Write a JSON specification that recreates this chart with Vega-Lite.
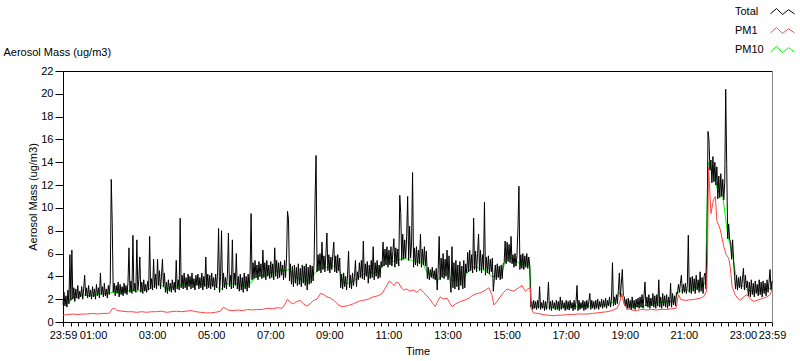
{
"$schema": "https://vega.github.io/schema/vega-lite/v6.json",
"width": 709, "height": 251,
"autosize": {"type": "none"},
"padding": {"left": 63, "top": 71, "right": 28, "bottom": 39},
"background": "white",
"datasets": {
"tot": [
{"t":0,"v":1.5},{"t":2,"v":2.6},{"t":4,"v":1.4},{"t":6,"v":2.3},{"t":8,"v":1.3},{"t":10,"v":2.8},{"t":12,"v":1.6},{"t":14,"v":5.9},{"t":16,"v":1.9},{"t":18,"v":6.3},{"t":20,"v":2.0},{"t":22,"v":3.0},{"t":24,"v":1.8},{"t":26,"v":2.9},{"t":28,"v":2.1},{"t":30,"v":3.2},{"t":32,"v":2.0},{"t":34,"v":2.7},{"t":36,"v":2.2},{"t":38,"v":3.1},{"t":40,"v":2.0},{"t":42,"v":2.9},{"t":44,"v":4.1},{"t":46,"v":2.3},{"t":48,"v":3.0},{"t":50,"v":2.1},{"t":52,"v":3.2},{"t":54,"v":2.2},{"t":56,"v":2.8},{"t":58,"v":2.0},
{"t":60,"v":3.1},{"t":62,"v":2.2},{"t":64,"v":2.9},{"t":66,"v":2.0},{"t":68,"v":3.3},{"t":70,"v":2.3},{"t":72,"v":3.0},{"t":74,"v":2.1},{"t":76,"v":4.3},{"t":78,"v":2.4},{"t":80,"v":3.1},{"t":82,"v":2.2},{"t":84,"v":3.4},{"t":86,"v":2.3},{"t":88,"v":2.9},{"t":90,"v":2.1},{"t":92,"v":3.2},{"t":94,"v":2.4},{"t":96,"v":3.6},{"t":98,"v":12.5},{"t":100,"v":8.6},{"t":102,"v":2.6},{"t":104,"v":3.4},{"t":106,"v":2.3},{"t":108,"v":3.2},{"t":110,"v":2.5},{"t":112,"v":3.5},{"t":114,"v":2.2},{"t":116,"v":3.3},{"t":118,"v":2.4},
{"t":120,"v":3.1},{"t":122,"v":2.3},{"t":124,"v":3.4},{"t":126,"v":2.5},{"t":128,"v":3.2},{"t":130,"v":2.4},{"t":132,"v":3.5},{"t":134,"v":6.5},{"t":136,"v":2.6},{"t":138,"v":3.6},{"t":140,"v":2.5},{"t":142,"v":7.6},{"t":144,"v":2.7},{"t":146,"v":3.4},{"t":148,"v":2.6},{"t":150,"v":7.2},{"t":152,"v":2.8},{"t":154,"v":3.7},{"t":156,"v":5.7},{"t":158,"v":2.6},{"t":160,"v":3.5},{"t":162,"v":2.5},{"t":164,"v":3.7},{"t":166,"v":2.7},{"t":168,"v":3.3},{"t":170,"v":2.6},{"t":172,"v":3.6},{"t":174,"v":2.8},{"t":176,"v":7.5},{"t":178,"v":2.9},
{"t":180,"v":3.8},{"t":182,"v":2.8},{"t":184,"v":5.5},{"t":186,"v":3.0},{"t":188,"v":4.2},{"t":190,"v":2.9},{"t":192,"v":5.5},{"t":194,"v":3.2},{"t":196,"v":4.5},{"t":198,"v":2.9},{"t":200,"v":4.0},{"t":202,"v":5.5},{"t":204,"v":3.1},{"t":206,"v":4.3},{"t":208,"v":2.6},{"t":210,"v":3.5},{"t":212,"v":2.5},{"t":214,"v":3.7},{"t":216,"v":2.7},{"t":218,"v":3.4},{"t":220,"v":2.6},{"t":222,"v":3.7},{"t":224,"v":2.8},{"t":226,"v":3.5},{"t":228,"v":2.6},{"t":230,"v":5.4},{"t":232,"v":2.9},{"t":234,"v":3.7},{"t":236,"v":2.8},{"t":238,"v":9.1},
{"t":240,"v":3.0},{"t":242,"v":4.1},{"t":244,"v":2.9},{"t":246,"v":4.3},{"t":248,"v":3.0},{"t":250,"v":3.9},{"t":252,"v":2.8},{"t":254,"v":4.2},{"t":256,"v":3.1},{"t":258,"v":4.0},{"t":260,"v":2.9},{"t":262,"v":4.3},{"t":264,"v":3.0},{"t":266,"v":3.8},{"t":268,"v":2.8},{"t":270,"v":4.1},{"t":272,"v":3.2},{"t":274,"v":4.2},{"t":276,"v":2.9},{"t":278,"v":3.9},{"t":280,"v":3.0},{"t":282,"v":4.3},{"t":284,"v":2.8},{"t":286,"v":4.0},{"t":288,"v":3.1},{"t":290,"v":5.7},{"t":292,"v":2.9},{"t":294,"v":4.2},{"t":296,"v":3.0},{"t":298,"v":4.1},
{"t":300,"v":2.9},{"t":302,"v":4.3},{"t":304,"v":3.1},{"t":306,"v":3.9},{"t":308,"v":2.8},{"t":310,"v":4.2},{"t":312,"v":3.0},{"t":314,"v":4.3},{"t":316,"v":8.2},{"t":318,"v":2.6},{"t":320,"v":4.0},{"t":322,"v":8.0},{"t":324,"v":2.8},{"t":326,"v":4.3},{"t":328,"v":3.0},{"t":330,"v":3.9},{"t":332,"v":2.9},{"t":334,"v":4.2},{"t":336,"v":7.8},{"t":338,"v":3.1},{"t":340,"v":4.1},{"t":342,"v":2.9},{"t":344,"v":7.2},{"t":346,"v":3.0},{"t":348,"v":4.3},{"t":350,"v":3.2},{"t":352,"v":6.0},{"t":354,"v":2.9},{"t":356,"v":4.0},{"t":358,"v":2.7},
{"t":360,"v":4.2},{"t":362,"v":2.8},{"t":364,"v":3.9},{"t":366,"v":2.6},{"t":368,"v":4.3},{"t":370,"v":2.9},{"t":372,"v":4.0},{"t":374,"v":2.7},{"t":376,"v":4.2},{"t":378,"v":3.0},{"t":380,"v":4.4},{"t":382,"v":9.5},{"t":384,"v":3.7},{"t":386,"v":5.2},{"t":388,"v":3.8},{"t":390,"v":5.4},{"t":392,"v":3.9},{"t":394,"v":5.0},{"t":396,"v":3.7},{"t":398,"v":5.3},{"t":400,"v":4.0},{"t":402,"v":5.1},{"t":404,"v":3.8},{"t":406,"v":6.3},{"t":408,"v":3.9},{"t":410,"v":5.2},{"t":412,"v":3.7},{"t":414,"v":5.4},{"t":416,"v":4.0},{"t":418,"v":5.0},
{"t":420,"v":3.8},{"t":422,"v":5.3},{"t":424,"v":3.9},{"t":426,"v":5.1},{"t":428,"v":3.7},{"t":430,"v":6.5},{"t":432,"v":4.0},{"t":434,"v":5.4},{"t":436,"v":3.8},{"t":438,"v":5.2},{"t":440,"v":3.9},{"t":442,"v":5.3},{"t":444,"v":4.1},{"t":446,"v":5.0},{"t":448,"v":3.7},{"t":450,"v":5.4},{"t":452,"v":3.9},{"t":454,"v":5.6},{"t":456,"v":9.7},{"t":458,"v":9.0},{"t":460,"v":3.6},{"t":462,"v":5.1},{"t":464,"v":3.3},{"t":466,"v":4.9},{"t":468,"v":3.1},{"t":470,"v":5.0},{"t":472,"v":3.4},{"t":474,"v":4.8},{"t":476,"v":3.2},{"t":478,"v":5.1},
{"t":480,"v":3.3},{"t":482,"v":4.7},{"t":484,"v":3.1},{"t":486,"v":5.0},{"t":488,"v":3.4},{"t":490,"v":4.9},{"t":492,"v":3.2},{"t":494,"v":5.1},{"t":496,"v":2.8},{"t":498,"v":4.8},{"t":500,"v":3.3},{"t":502,"v":5.0},{"t":504,"v":3.4},{"t":506,"v":4.9},{"t":508,"v":3.6},{"t":510,"v":5.2},{"t":512,"v":10.8},{"t":514,"v":14.6},{"t":516,"v":4.4},{"t":518,"v":5.9},{"t":520,"v":4.5},{"t":522,"v":6.0},{"t":524,"v":4.3},{"t":526,"v":7.0},{"t":528,"v":4.6},{"t":530,"v":5.8},{"t":532,"v":4.4},{"t":534,"v":6.0},{"t":536,"v":7.8},{"t":538,"v":4.5},
{"t":540,"v":5.9},{"t":542,"v":4.3},{"t":544,"v":5.7},{"t":546,"v":4.6},{"t":548,"v":6.0},{"t":550,"v":7.0},{"t":552,"v":4.4},{"t":554,"v":5.8},{"t":556,"v":4.3},{"t":558,"v":5.9},{"t":560,"v":4.5},{"t":562,"v":5.6},{"t":564,"v":3.0},{"t":566,"v":4.2},{"t":568,"v":2.9},{"t":570,"v":4.3},{"t":572,"v":3.1},{"t":574,"v":4.0},{"t":576,"v":2.8},{"t":578,"v":4.2},{"t":580,"v":6.2},{"t":582,"v":3.0},{"t":584,"v":4.1},{"t":586,"v":2.9},{"t":588,"v":4.3},{"t":590,"v":3.2},{"t":592,"v":4.0},{"t":594,"v":5.4},{"t":596,"v":3.1},{"t":598,"v":4.4},
{"t":600,"v":3.7},{"t":602,"v":5.2},{"t":604,"v":3.9},{"t":606,"v":5.4},{"t":608,"v":3.8},{"t":610,"v":7.1},{"t":612,"v":3.7},{"t":614,"v":5.1},{"t":616,"v":4.0},{"t":618,"v":5.3},{"t":620,"v":3.4},{"t":622,"v":5.0},{"t":624,"v":3.8},{"t":626,"v":5.4},{"t":628,"v":3.9},{"t":630,"v":6.6},{"t":632,"v":3.7},{"t":634,"v":5.2},{"t":636,"v":4.0},{"t":638,"v":5.4},{"t":640,"v":3.8},{"t":642,"v":5.0},{"t":644,"v":3.9},{"t":646,"v":5.3},{"t":648,"v":4.8},{"t":650,"v":7.0},{"t":652,"v":4.9},{"t":654,"v":6.4},{"t":656,"v":5.0},{"t":658,"v":6.6},
{"t":660,"v":4.8},{"t":662,"v":6.3},{"t":664,"v":5.0},{"t":666,"v":6.6},{"t":668,"v":4.9},{"t":670,"v":6.2},{"t":672,"v":7.3},{"t":674,"v":4.8},{"t":676,"v":6.5},{"t":678,"v":5.1},{"t":680,"v":6.4},{"t":682,"v":4.9},{"t":684,"v":11.1},{"t":686,"v":9.5},{"t":688,"v":5.4},{"t":690,"v":7.7},{"t":692,"v":5.5},{"t":694,"v":7.2},{"t":696,"v":5.6},{"t":698,"v":7.5},{"t":700,"v":11.0},{"t":702,"v":5.4},{"t":704,"v":8.4},{"t":706,"v":5.6},{"t":708,"v":7.0},{"t":710,"v":13.1},{"t":712,"v":4.8},{"t":714,"v":6.5},{"t":716,"v":5.0},{"t":718,"v":6.6},
{"t":720,"v":4.9},{"t":722,"v":6.3},{"t":724,"v":5.1},{"t":726,"v":7.7},{"t":728,"v":4.8},{"t":730,"v":6.4},{"t":732,"v":5.0},{"t":734,"v":6.6},{"t":736,"v":4.9},{"t":738,"v":6.2},{"t":740,"v":3.8},{"t":742,"v":4.8},{"t":744,"v":3.7},{"t":746,"v":4.6},{"t":748,"v":3.9},{"t":750,"v":4.8},{"t":752,"v":3.8},{"t":754,"v":4.5},{"t":756,"v":3.7},{"t":758,"v":4.7},{"t":760,"v":2.8},{"t":762,"v":4.6},{"t":764,"v":7.5},{"t":766,"v":3.7},{"t":768,"v":5.6},{"t":770,"v":3.9},{"t":772,"v":6.0},{"t":774,"v":3.8},{"t":776,"v":5.5},{"t":778,"v":4.0},
{"t":780,"v":6.3},{"t":782,"v":3.7},{"t":784,"v":5.8},{"t":786,"v":3.9},{"t":788,"v":2.6},{"t":790,"v":6.6},{"t":792,"v":3.0},{"t":794,"v":5.2},{"t":796,"v":2.9},{"t":798,"v":5.4},{"t":800,"v":3.1},{"t":802,"v":5.0},{"t":804,"v":2.8},{"t":806,"v":5.3},{"t":808,"v":3.2},{"t":810,"v":4.9},{"t":812,"v":2.9},{"t":814,"v":5.4},{"t":816,"v":3.0},{"t":818,"v":5.1},{"t":820,"v":4.3},{"t":822,"v":6.1},{"t":824,"v":4.4},{"t":826,"v":6.3},{"t":828,"v":4.5},{"t":830,"v":5.9},{"t":832,"v":4.3},{"t":834,"v":9.1},{"t":836,"v":4.6},{"t":838,"v":6.2},
{"t":840,"v":4.4},{"t":842,"v":6.0},{"t":844,"v":7.7},{"t":846,"v":4.5},{"t":848,"v":6.3},{"t":850,"v":4.3},{"t":852,"v":5.9},{"t":854,"v":4.6},{"t":856,"v":10.5},{"t":858,"v":4.1},{"t":860,"v":5.7},{"t":862,"v":4.3},{"t":864,"v":5.8},{"t":866,"v":4.2},{"t":868,"v":5.5},{"t":870,"v":4.4},{"t":872,"v":5.6},{"t":874,"v":2.7},{"t":876,"v":3.8},{"t":878,"v":5.0},{"t":880,"v":3.7},{"t":882,"v":5.1},{"t":884,"v":3.9},{"t":886,"v":4.9},{"t":888,"v":3.7},{"t":890,"v":5.0},{"t":892,"v":3.8},{"t":894,"v":5.1},{"t":896,"v":5.2},{"t":898,"v":7.1},
{"t":900,"v":5.1},{"t":902,"v":7.0},{"t":904,"v":5.3},{"t":906,"v":6.8},{"t":908,"v":5.2},{"t":910,"v":7.5},{"t":912,"v":5.1},{"t":914,"v":5.9},{"t":916,"v":4.8},{"t":918,"v":6.0},{"t":920,"v":4.9},{"t":922,"v":5.8},{"t":924,"v":8.2},{"t":926,"v":11.9},{"t":928,"v":4.6},{"t":930,"v":5.9},{"t":932,"v":4.7},{"t":934,"v":6.0},{"t":936,"v":4.6},{"t":938,"v":5.8},{"t":940,"v":4.8},{"t":942,"v":6.0},{"t":944,"v":4.7},{"t":946,"v":5.7},{"t":948,"v":4.9},{"t":950,"v":1.3},{"t":952,"v":1.8},{"t":954,"v":1.1},{"t":956,"v":1.9},{"t":958,"v":1.2},
{"t":960,"v":1.8},{"t":962,"v":1.1},{"t":964,"v":1.9},{"t":966,"v":1.2},{"t":968,"v":3.1},{"t":970,"v":1.1},{"t":972,"v":1.7},{"t":974,"v":1.2},{"t":976,"v":1.9},{"t":978,"v":1.0},{"t":980,"v":1.8},{"t":982,"v":1.1},{"t":984,"v":1.9},{"t":986,"v":3.5},{"t":988,"v":1.1},{"t":990,"v":1.8},{"t":992,"v":1.0},{"t":994,"v":1.9},{"t":996,"v":1.2},{"t":998,"v":1.7},{"t":1000,"v":1.05},{"t":1002,"v":1.9},{"t":1004,"v":1.1},{"t":1006,"v":1.8},{"t":1008,"v":1.0},{"t":1010,"v":2.2},{"t":1012,"v":1.1},{"t":1014,"v":1.9},{"t":1016,"v":1.2},{"t":1018,"v":1.7},
{"t":1020,"v":1.0},{"t":1022,"v":1.9},{"t":1024,"v":1.1},{"t":1026,"v":1.8},{"t":1028,"v":1.05},{"t":1030,"v":1.9},{"t":1032,"v":1.2},{"t":1034,"v":1.7},{"t":1036,"v":1.0},{"t":1038,"v":1.9},{"t":1040,"v":1.1},{"t":1042,"v":1.8},{"t":1044,"v":3.2},{"t":1046,"v":1.0},{"t":1048,"v":1.9},{"t":1050,"v":1.1},{"t":1052,"v":1.7},{"t":1054,"v":1.2},{"t":1056,"v":1.9},{"t":1058,"v":1.0},{"t":1060,"v":1.8},{"t":1062,"v":1.1},{"t":1064,"v":1.9},{"t":1066,"v":1.2},{"t":1068,"v":1.8},{"t":1070,"v":2.5},{"t":1072,"v":1.1},{"t":1074,"v":1.9},{"t":1076,"v":1.2},{"t":1078,"v":1.8},
{"t":1080,"v":1.1},{"t":1082,"v":1.9},{"t":1084,"v":1.2},{"t":1086,"v":2.0},{"t":1088,"v":1.1},{"t":1090,"v":1.8},{"t":1092,"v":1.3},{"t":1094,"v":2.0},{"t":1096,"v":1.2},{"t":1098,"v":1.9},{"t":1100,"v":1.3},{"t":1102,"v":2.1},{"t":1104,"v":1.2},{"t":1106,"v":1.9},{"t":1108,"v":1.4},{"t":1110,"v":2.2},{"t":1112,"v":1.3},{"t":1114,"v":2.0},{"t":1116,"v":5.2},{"t":1118,"v":1.4},{"t":1120,"v":2.2},{"t":1122,"v":1.5},{"t":1124,"v":2.4},{"t":1126,"v":1.6},{"t":1128,"v":2.8},{"t":1130,"v":4.3},{"t":1132,"v":2.2},{"t":1134,"v":3.4},{"t":1136,"v":4.6},{"t":1138,"v":2.3},
{"t":1140,"v":2.2},{"t":1142,"v":1.4},{"t":1144,"v":2.0},{"t":1146,"v":1.1},{"t":1148,"v":2.1},{"t":1150,"v":1.2},{"t":1152,"v":1.9},{"t":1154,"v":1.05},{"t":1156,"v":2.2},{"t":1158,"v":1.2},{"t":1160,"v":1.9},{"t":1162,"v":1.1},{"t":1164,"v":2.0},{"t":1166,"v":1.3},{"t":1168,"v":2.1},{"t":1170,"v":1.2},{"t":1172,"v":2.2},{"t":1174,"v":1.3},{"t":1176,"v":2.4},{"t":1178,"v":1.2},{"t":1180,"v":2.3},{"t":1182,"v":3.5},{"t":1184,"v":1.4},{"t":1186,"v":2.2},{"t":1188,"v":1.3},{"t":1190,"v":2.4},{"t":1192,"v":1.2},{"t":1194,"v":2.1},{"t":1196,"v":1.4},{"t":1198,"v":2.5},
{"t":1200,"v":1.3},{"t":1202,"v":2.3},{"t":1204,"v":1.2},{"t":1206,"v":2.4},{"t":1208,"v":1.4},{"t":1210,"v":3.7},{"t":1212,"v":1.3},{"t":1214,"v":2.2},{"t":1216,"v":1.2},{"t":1218,"v":2.5},{"t":1220,"v":1.4},{"t":1222,"v":2.3},{"t":1224,"v":1.3},{"t":1226,"v":2.4},{"t":1228,"v":1.2},{"t":1230,"v":2.2},{"t":1232,"v":1.4},{"t":1234,"v":3.4},{"t":1236,"v":1.3},{"t":1238,"v":2.5},{"t":1240,"v":1.5},{"t":1242,"v":2.3},{"t":1244,"v":1.4},{"t":1246,"v":2.6},{"t":1248,"v":2.5},{"t":1250,"v":3.3},{"t":1252,"v":2.6},{"t":1254,"v":3.4},{"t":1256,"v":4.1},{"t":1258,"v":2.5},
{"t":1260,"v":3.3},{"t":1262,"v":2.6},{"t":1264,"v":3.4},{"t":1266,"v":2.5},{"t":1268,"v":3.2},{"t":1270,"v":7.6},{"t":1272,"v":2.6},{"t":1274,"v":3.9},{"t":1276,"v":2.5},{"t":1278,"v":4.0},{"t":1280,"v":2.7},{"t":1282,"v":3.8},{"t":1284,"v":2.5},{"t":1286,"v":4.1},{"t":1288,"v":2.8},{"t":1290,"v":3.7},{"t":1292,"v":2.6},{"t":1294,"v":4.4},{"t":1296,"v":2.7},{"t":1298,"v":3.9},{"t":1300,"v":2.5},{"t":1302,"v":4.0},{"t":1304,"v":4.3},{"t":1306,"v":2.9},{"t":1308,"v":7.2},{"t":1310,"v":16.7},{"t":1312,"v":16.0},{"t":1314,"v":13.3},{"t":1316,"v":14.2},{"t":1318,"v":12.2},
{"t":1320,"v":14.5},{"t":1322,"v":12.3},{"t":1324,"v":14.0},{"t":1326,"v":12.0},{"t":1328,"v":13.6},{"t":1330,"v":10.8},{"t":1332,"v":12.8},{"t":1334,"v":10.9},{"t":1336,"v":13.0},{"t":1338,"v":11.0},{"t":1340,"v":12.5},{"t":1342,"v":10.7},{"t":1344,"v":12.2},{"t":1346,"v":20.4},{"t":1348,"v":13.8},{"t":1350,"v":7.3},{"t":1352,"v":8.6},{"t":1354,"v":7.2},{"t":1356,"v":7.0},{"t":1358,"v":5.5},{"t":1360,"v":7.2},{"t":1362,"v":5.4},{"t":1364,"v":4.0},{"t":1366,"v":2.9},{"t":1368,"v":4.1},{"t":1370,"v":2.8},{"t":1372,"v":3.9},{"t":1374,"v":3.0},{"t":1376,"v":4.0},{"t":1378,"v":2.9},
{"t":1380,"v":3.8},{"t":1382,"v":4.7},{"t":1384,"v":2.8},{"t":1386,"v":4.1},{"t":1388,"v":3.0},{"t":1390,"v":3.6},{"t":1392,"v":2.3},{"t":1394,"v":3.5},{"t":1396,"v":2.2},{"t":1398,"v":3.7},{"t":1400,"v":2.4},{"t":1402,"v":3.4},{"t":1404,"v":2.2},{"t":1406,"v":3.6},{"t":1408,"v":2.5},{"t":1410,"v":3.3},{"t":1412,"v":2.3},{"t":1414,"v":3.7},{"t":1416,"v":2.4},{"t":1418,"v":3.5},{"t":1420,"v":2.2},{"t":1422,"v":3.6},{"t":1424,"v":2.5},{"t":1426,"v":3.4},{"t":1428,"v":2.3},{"t":1430,"v":3.7},{"t":1432,"v":2.6},{"t":1434,"v":3.5},{"t":1436,"v":4.6},{"t":1438,"v":2.8},{"t":1440,"v":3.6}
],
"pm1": [
{"t":0,"v":0.6},{"t":10,"v":0.65},{"t":20,"v":0.7},{"t":30,"v":0.65},{"t":40,"v":0.7},{"t":50,"v":0.7},{"t":60,"v":0.75},{"t":70,"v":0.7},{"t":80,"v":0.75},{"t":90,"v":0.75},{"t":95,"v":0.8},{"t":100,"v":1.15},{"t":105,"v":1.2},{"t":110,"v":1.0},{"t":120,"v":0.95},{"t":130,"v":0.9},{"t":140,"v":0.9},{"t":150,"v":0.85},{"t":160,"v":0.9},{"t":170,"v":0.85},{"t":180,"v":0.9},{"t":190,"v":0.9},{"t":200,"v":0.95},{"t":210,"v":0.85},{"t":220,"v":0.9},{"t":230,"v":0.95},{"t":240,"v":0.9},{"t":250,"v":0.95},{"t":260,"v":1.0},{"t":270,"v":0.9},{"t":280,"v":0.85},{"t":290,"v":0.8},{"t":300,"v":0.8},{"t":310,"v":0.85},{"t":320,"v":0.95},{"t":326,"v":1.3},{"t":335,"v":1.05},{"t":345,"v":1.0},{"t":355,"v":1.05},{"t":365,"v":1.0},{"t":375,"v":1.1},{"t":385,"v":1.05},{"t":395,"v":1.1},{"t":405,"v":1.1},{"t":415,"v":1.2},{"t":425,"v":1.15},{"t":435,"v":1.25},{"t":445,"v":1.2},{"t":450,"v":1.5},{"t":456,"v":2.0},{"t":462,"v":1.7},{"t":468,"v":1.6},{"t":475,"v":1.8},{"t":482,"v":1.9},{"t":488,"v":1.6},{"t":495,"v":1.4},{"t":502,"v":1.6},{"t":509,"v":1.9},{"t":516,"v":2.0},{"t":523,"v":2.5},{"t":530,"v":2.4},{"t":536,"v":2.2},{"t":543,"v":2.1},{"t":550,"v":1.9},{"t":557,"v":1.6},{"t":563,"v":1.4},{"t":570,"v":1.35},{"t":580,"v":1.45},{"t":590,"v":1.6},{"t":600,"v":1.8},{"t":610,"v":1.9},{"t":620,"v":2.0},{"t":630,"v":2.2},{"t":640,"v":2.3},{"t":648,"v":2.5},{"t":655,"v":3.0},{"t":663,"v":3.6},{"t":668,"v":3.4},{"t":672,"v":3.2},{"t":677,"v":3.5},{"t":682,"v":3.4},{"t":687,"v":3.0},{"t":692,"v":2.8},{"t":698,"v":2.9},{"t":705,"v":2.7},{"t":712,"v":2.8},{"t":719,"v":2.6},{"t":726,"v":2.9},{"t":732,"v":2.6},{"t":739,"v":2.3},{"t":745,"v":2.0},{"t":750,"v":1.7},{"t":756,"v":1.35},{"t":761,"v":1.8},{"t":766,"v":2.2},{"t":773,"v":2.0},{"t":780,"v":2.1},{"t":785,"v":1.7},{"t":790,"v":1.35},{"t":798,"v":1.6},{"t":807,"v":1.8},{"t":815,"v":1.9},{"t":825,"v":2.1},{"t":834,"v":2.4},{"t":842,"v":2.5},{"t":850,"v":2.6},{"t":858,"v":2.8},{"t":865,"v":3.0},{"t":871,"v":2.4},{"t":875,"v":1.5},{"t":880,"v":1.7},{"t":888,"v":2.2},{"t":895,"v":2.6},{"t":902,"v":2.9},{"t":908,"v":2.8},{"t":915,"v":2.7},{"t":922,"v":2.9},{"t":932,"v":3.2},{"t":939,"v":2.7},{"t":944,"v":2.9},{"t":949,"v":3.0},{"t":951,"v":1.2},{"t":955,"v":0.8},{"t":965,"v":0.75},{"t":975,"v":0.65},{"t":985,"v":0.6},{"t":995,"v":0.55},{"t":1005,"v":0.6},{"t":1015,"v":0.6},{"t":1025,"v":0.65},{"t":1035,"v":0.65},{"t":1045,"v":0.7},{"t":1055,"v":0.7},{"t":1065,"v":0.7},{"t":1075,"v":0.75},{"t":1085,"v":0.8},{"t":1095,"v":0.85},{"t":1105,"v":0.9},{"t":1115,"v":1.0},{"t":1125,"v":1.2},{"t":1130,"v":1.6},{"t":1135,"v":2.5},{"t":1139,"v":1.6},{"t":1145,"v":1.2},{"t":1155,"v":1.05},{"t":1165,"v":1.0},{"t":1175,"v":1.1},{"t":1185,"v":1.05},{"t":1195,"v":1.1},{"t":1205,"v":1.05},{"t":1215,"v":1.1},{"t":1225,"v":1.1},{"t":1235,"v":1.15},{"t":1245,"v":1.2},{"t":1250,"v":2.4},{"t":1255,"v":1.95},{"t":1265,"v":1.9},{"t":1275,"v":1.95},{"t":1285,"v":2.0},{"t":1295,"v":2.1},{"t":1301,"v":2.2},{"t":1307,"v":2.7},{"t":1309,"v":5.7},{"t":1311,"v":13.6},{"t":1313,"v":12.0},{"t":1316,"v":9.5},{"t":1321,"v":10.7},{"t":1325,"v":11.0},{"t":1328,"v":8.9},{"t":1335,"v":8.1},{"t":1342,"v":6.6},{"t":1347,"v":5.9},{"t":1352,"v":5.6},{"t":1355,"v":4.9},{"t":1359,"v":3.1},{"t":1365,"v":2.4},{"t":1370,"v":2.1},{"t":1376,"v":1.9},{"t":1382,"v":2.2},{"t":1389,"v":2.4},{"t":1396,"v":2.0},{"t":1403,"v":1.8},{"t":1410,"v":1.9},{"t":1416,"v":2.0},{"t":1423,"v":2.1},{"t":1430,"v":2.2},{"t":1436,"v":2.4},{"t":1440,"v":2.8}
],
"pm10": [
{"t":0,"v":1.7},{"t":10,"v":1.6},{"t":20,"v":2.2},{"t":30,"v":2.1},{"t":40,"v":2.4},{"t":50,"v":2.3},{"t":60,"v":2.3},{"t":70,"v":2.4},{"t":80,"v":2.5},{"t":90,"v":2.5},{"t":100,"v":2.6},{"t":110,"v":2.6},{"t":120,"v":2.6},{"t":130,"v":2.7},{"t":140,"v":2.8},{"t":150,"v":2.7},{"t":160,"v":2.8},{"t":170,"v":2.8},{"t":180,"v":3.0},{"t":190,"v":3.4},{"t":200,"v":3.2},{"t":210,"v":2.9},{"t":220,"v":3.0},{"t":230,"v":3.1},{"t":240,"v":3.3},{"t":250,"v":3.3},{"t":260,"v":3.4},{"t":270,"v":3.3},{"t":280,"v":3.3},{"t":290,"v":3.3},{"t":300,"v":3.3},{"t":310,"v":3.2},{"t":320,"v":2.8},{"t":330,"v":3.4},{"t":340,"v":3.3},{"t":350,"v":3.4},{"t":360,"v":3.2},{"t":370,"v":3.1},{"t":380,"v":3.4},{"t":390,"v":3.9},{"t":400,"v":4.0},{"t":410,"v":4.1},{"t":420,"v":4.3},{"t":430,"v":4.4},{"t":440,"v":4.5},{"t":450,"v":4.5},{"t":460,"v":4.6},{"t":470,"v":4.0},{"t":480,"v":3.8},{"t":490,"v":3.6},{"t":500,"v":3.7},{"t":510,"v":4.2},{"t":520,"v":4.6},{"t":530,"v":4.8},{"t":540,"v":4.8},{"t":550,"v":4.9},{"t":560,"v":4.6},{"t":570,"v":3.4},{"t":580,"v":3.4},{"t":590,"v":3.6},{"t":600,"v":3.9},{"t":610,"v":4.2},{"t":620,"v":4.3},{"t":630,"v":4.3},{"t":640,"v":4.4},{"t":650,"v":5.0},{"t":660,"v":5.2},{"t":670,"v":5.3},{"t":680,"v":5.4},{"t":690,"v":5.6},{"t":700,"v":5.5},{"t":710,"v":5.4},{"t":720,"v":5.3},{"t":730,"v":5.2},{"t":740,"v":4.3},{"t":750,"v":4.1},{"t":760,"v":3.6},{"t":770,"v":4.2},{"t":780,"v":4.3},{"t":790,"v":3.6},{"t":800,"v":3.7},{"t":810,"v":3.8},{"t":820,"v":4.2},{"t":830,"v":4.8},{"t":840,"v":4.8},{"t":850,"v":4.6},{"t":860,"v":4.5},{"t":870,"v":4.0},{"t":880,"v":4.0},{"t":890,"v":4.1},{"t":900,"v":5.6},{"t":910,"v":5.6},{"t":920,"v":5.4},{"t":930,"v":5.0},{"t":940,"v":5.1},{"t":948,"v":5.0},{"t":952,"v":1.3},{"t":960,"v":1.3},{"t":970,"v":1.4},{"t":980,"v":1.3},{"t":990,"v":1.3},{"t":1000,"v":1.2},{"t":1010,"v":1.3},{"t":1020,"v":1.3},{"t":1030,"v":1.3},{"t":1040,"v":1.4},{"t":1050,"v":1.3},{"t":1060,"v":1.4},{"t":1070,"v":1.4},{"t":1080,"v":1.4},{"t":1090,"v":1.5},{"t":1100,"v":1.5},{"t":1110,"v":1.6},{"t":1120,"v":1.8},{"t":1130,"v":2.6},{"t":1140,"v":1.8},{"t":1150,"v":1.4},{"t":1160,"v":1.4},{"t":1170,"v":1.3},{"t":1180,"v":1.4},{"t":1190,"v":1.5},{"t":1200,"v":1.6},{"t":1210,"v":1.7},{"t":1220,"v":1.7},{"t":1230,"v":1.8},{"t":1240,"v":1.8},{"t":1250,"v":2.6},{"t":1260,"v":2.8},{"t":1270,"v":2.8},{"t":1280,"v":3.0},{"t":1290,"v":3.0},{"t":1300,"v":3.2},{"t":1305,"v":3.5},{"t":1310,"v":14.0},{"t":1320,"v":13.0},{"t":1330,"v":11.5},{"t":1340,"v":11.0},{"t":1350,"v":7.6},{"t":1360,"v":5.8},{"t":1370,"v":3.2},{"t":1380,"v":3.2},{"t":1390,"v":2.8},{"t":1400,"v":2.7},{"t":1410,"v":2.7},{"t":1420,"v":2.8},{"t":1430,"v":2.9},{"t":1440,"v":3.0}
]
},
"layer": [
{"data": {"name": "pm10"},
 "mark": {"type": "line", "strokeWidth": 1},
 "encoding": {
  "x": {"field": "t", "type": "quantitative", "scale": {"domain": [0, 1440], "nice": false, "zero": false},
   "axis": {"orient": "bottom", "values": [0,1,16,31,46,61,76,91,106,121,136,151,166,181,196,211,226,241,256,271,286,301,316,331,346,361,376,391,406,421,436,451,466,481,496,511,526,541,556,571,586,601,616,631,646,661,676,691,706,721,736,751,766,781,796,811,826,841,856,871,886,901,916,931,946,961,976,991,1006,1021,1036,1051,1066,1081,1096,1111,1126,1141,1156,1171,1186,1201,1216,1231,1246,1261,1276,1291,1306,1321,1336,1351,1366,1381,1396,1411,1426,1440],
    "labelExpr": "(datum.value == 0 || datum.value == 1440 || (datum.value - 61) % 120 == 0) ? (format(floor(((datum.value + 1439) % 1440) / 60), '02d') + ':' + format((datum.value + 1439) % 60, '02d')) : ''",
    "labelOverlap": false, "labelFlush": false, "tickSize": 4, "labelPadding": 3, "title": "Time", "titlePadding": 5}},
  "y": {"field": "v", "type": "quantitative", "scale": {"domain": [0, 22], "nice": false},
   "axis": {"orient": "left", "values": [0,2,4,6,8,10,12,14,16,18,20,22], "tickSize": 8, "labelPadding": 2, "title": "Aerosol Mass (ug/m3)", "titlePadding": 2}},
  "color": {"datum": "PM10", "type": "nominal",
   "scale": {"domain": ["Total", "PM1", "PM10"], "range": ["#000000", "#ff4444", "#00ff00"]},
   "legend": {"orient": "none", "legendX": 713, "legendY": -66, "title": null, "padding": 0,
    "symbolType": "M-2,0.4L-1,-0.5L0,0.5L1,-0.3L2,0.4", "symbolSize": 144, "symbolStrokeWidth": 1,
    "labelAlign": "left", "labelOffset": -54, "labelFont": "Liberation Sans", "labelFontSize": 11, "labelColor": "#000", "rowPadding": 7}}
 }},
{"data": {"name": "tot"},
 "mark": {"type": "line", "strokeWidth": 1},
 "encoding": {
  "x": {"field": "t", "type": "quantitative", "axis": {"orient": "top", "ticks": false, "labels": false, "domainColor": "#000", "title": "Aerosol Mass (ug/m3)", "titleX": -60, "titleY": -14, "titleAlign": "left", "titleBaseline": "bottom", "titleAngle": 0}},
  "y": {"field": "v", "type": "quantitative", "axis": {"orient": "right", "ticks": false, "labels": false, "title": null, "domainColor": "#888888"}},
  "color": {"datum": "Total", "type": "nominal"}
 }},
{"data": {"name": "pm1"},
 "mark": {"type": "line", "strokeWidth": 1},
 "encoding": {
  "x": {"field": "t", "type": "quantitative", "axis": null},
  "y": {"field": "v", "type": "quantitative", "axis": null},
  "color": {"datum": "PM1", "type": "nominal"}
 }}
],
"resolve": {"axis": {"x": "independent", "y": "independent"}},
"config": {
 "view": {"stroke": null},
 "axis": {"grid": false, "labelFont": "Liberation Sans", "labelFontSize": 11, "labelColor": "#000", "titleFont": "Liberation Sans", "titleFontSize": 11, "titleFontWeight": "normal", "titleColor": "#000", "tickColor": "#000", "domainColor": "#000"},
 "legend": {"labelFont": "Liberation Sans"}
}
}
